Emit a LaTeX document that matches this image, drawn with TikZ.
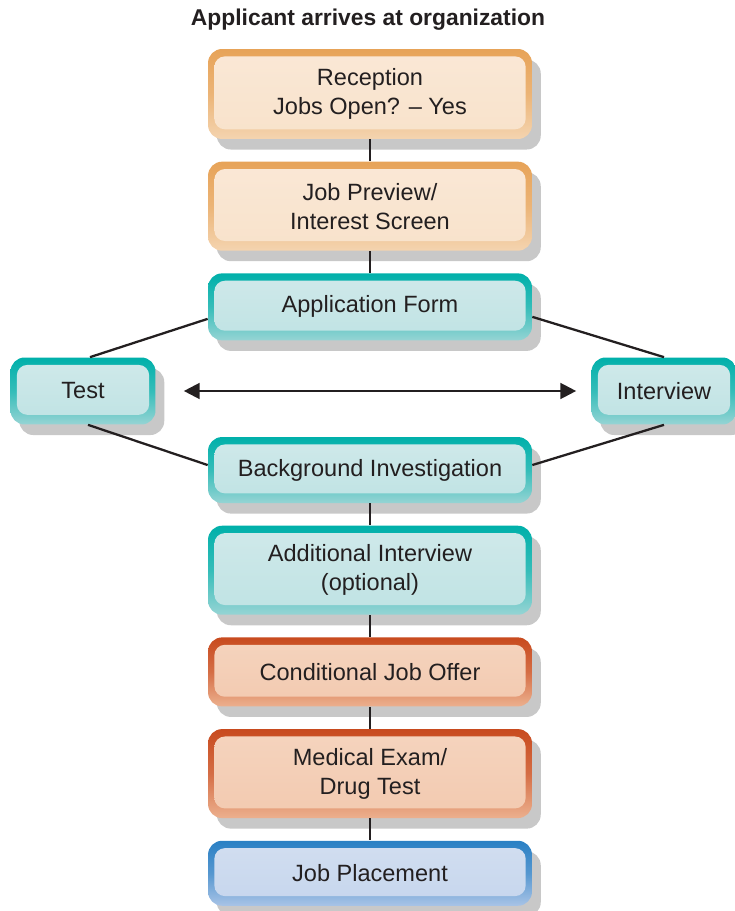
\documentclass[tikz,border=0pt]{standalone}
\usepackage{fontspec}
\setmainfont{Liberation Sans}
\usepackage{xcolor}
\usepackage{tikz}
\usetikzlibrary{%
  arrows.meta,
  positioning,
  shadows,
  calc}
\definecolor{ink}{RGB}{35,31,32}
\definecolor{shadowgray}{RGB}{200,200,200}
\definecolor{orgRim}{RGB}{231,163,88}
\definecolor{orgFace}{RGB}{250,232,214}
\definecolor{orgLow}{RGB}{244,212,176}
\definecolor{tealRim}{RGB}{0,176,170}
\definecolor{tealFace}{RGB}{208,233,234}
\definecolor{tealLow}{RGB}{150,212,212}
\definecolor{redRim}{RGB}{200,74,30}
\definecolor{redFace}{RGB}{245,212,190}
\definecolor{redLow}{RGB}{236,176,142}
\definecolor{blueRim}{RGB}{42,128,196}
\definecolor{blueFace}{RGB}{210,222,240}
\definecolor{blueLow}{RGB}{168,195,230}
\tikzset{
  %% Rounded cards: #1 rim, #2 face, #3 lower rim
  card/.style n args={3}{
    rectangle, rounded corners=8pt, draw=none,
    top color=#1, bottom color=#3, middle color=#1!65!#3,
    drop shadow={shadow xshift=5pt, shadow yshift=-6pt,
                 fill=shadowgray, opacity=1},
    path picture={
      \shade[top color=#2, bottom color=#2!70!#3, rounded corners=6pt]
        ([xshift=3.6pt,yshift=-4.2pt]path picture bounding box.north west)
        rectangle
        ([xshift=-3.6pt,yshift=5.5pt]path picture bounding box.south east);},
    minimum width=6.48cm, align=center, text=ink,
    font=\fontsize{13.4}{16.5}\selectfont},
  %% Colour families
  orangecard/.style={card={orgRim}{orgFace}{orgLow}},
  tealcard/.style={card={tealRim}{tealFace}{tealLow}},
  redcard/.style={card={redRim}{redFace}{redLow}},
  bluecard/.style={card={blueRim}{blueFace}{blueLow}},
  %% Side cards
  sidecard/.style={minimum width=2.9cm, minimum height=1.34cm},
  %% Connectors
  link/.style={line width=1.3pt, ink},
  dblarrow/.style={{Triangle[length=9pt,width=9pt]}-{Triangle[length=9pt,width=9pt]},
    line width=1.3pt, ink},
}
\begin{document}
\begin{tikzpicture}[x=0.02cm, y=0.02cm, node distance=0.44cm]
  \useasboundingbox (0,0) rectangle (734,-911);

  \node[font=\bfseries\fontsize{13}{15}\selectfont, text=ink] (title)
        at (368,-20) {Applicant arrives at organization};

  \node[orangecard, minimum height=1.8cm] (recep) at (370,-94)
        {Reception\\ Jobs Open? – Yes};
  \node[orangecard, minimum height=1.78cm, below=of recep] (prev)
        {Job Preview/\\ Interest Screen};
  \node[tealcard, minimum height=1.34cm, below=of prev] (appl)
        {Application Form};
  \node[tealcard, minimum height=1.32cm, below=1.92cm of appl] (bkgd)
        {Background Investigation};
  \node[tealcard, minimum height=1.78cm, below=of bkgd] (addl)
        {Additional Interview\\ (optional)};
  \node[redcard, minimum height=1.38cm, below=of addl] (offer)
        {Conditional Job Offer};
  \node[redcard, minimum height=1.78cm, below=of offer] (med)
        {Medical Exam/\\ Drug Test};
  \node[bluecard, minimum height=1.3cm, below=of med] (place)
        {Job Placement};

  %% Side steps
  \node[tealcard, sidecard] (test) at (83,-391) {Test};
  \node[tealcard, sidecard] (intv) at (664,-391) {Interview};

  \draw[link] (recep.south)--(prev.north);
  \draw[link] (prev.south)--(appl.north);
  \draw[link] (bkgd.south)--(addl.north);
  \draw[link] (addl.south)--(offer.north);
  \draw[link] (offer.south)--(med.north);
  \draw[link] (med.south)--(place.north);

  \draw[link] ([yshift=-0.24cm]appl.west)--([xshift=0.14cm]test.north);
  \draw[link] ([yshift=-0.2cm]appl.east)--(intv.north);
  \draw[link] ([xshift=0.1cm]test.south)--([yshift=0.1cm]bkgd.west);
  \draw[link] (intv.south)--([yshift=0.1cm]bkgd.east);

  \draw[dblarrow, shorten <=0.56cm, shorten >=0.3cm] (test.east)--(intv.west);
\end{tikzpicture}
\end{document}
